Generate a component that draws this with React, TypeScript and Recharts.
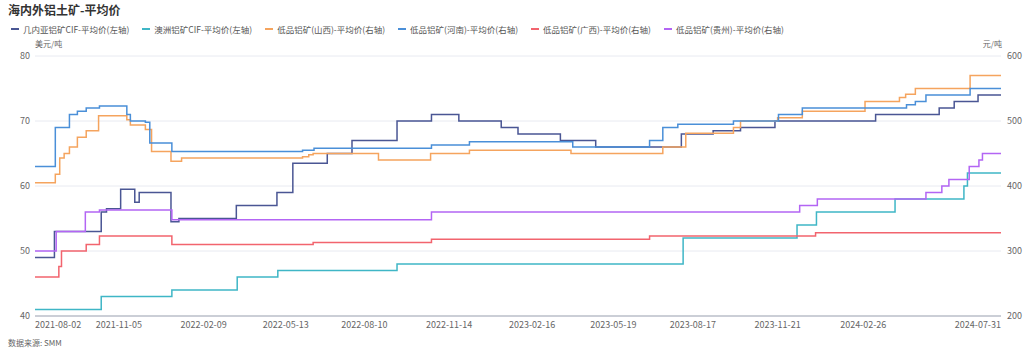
import { CartesianGrid, Line, LineChart, XAxis, YAxis } from "recharts";

const FONT = '"Noto Sans CJK SC", "Noto Sans", sans-serif';

const xTickDates = [
  "2021-08-02", "2021-11-05", "2022-02-09", "2022-05-13", "2022-08-10", "2022-11-14",
  "2023-02-16", "2023-05-19", "2023-08-17", "2023-11-21", "2024-02-26", "2024-07-31",
];
const leftTicks = [40, 50, 60, 70, 80];
const rightTicks = [200, 300, 400, 500, 600];

// 几内亚铝矿CIF (美元/吨)
const guineaDates = [
  "2021-08-02", "2021-08-24", "2021-10-16", "2021-10-22", "2021-11-07", "2021-11-23",
  "2021-11-28", "2022-01-03", "2022-01-12", "2022-03-18", "2022-05-03", "2022-05-21",
  "2022-06-29", "2022-07-27", "2022-09-16", "2022-10-25", "2022-11-25", "2023-01-12",
  "2023-01-31", "2023-03-20", "2023-04-29", "2023-08-04", "2023-09-09", "2023-10-10",
  "2023-11-18", "2024-03-11", "2024-05-22", "2024-06-08", "2024-07-05", "2024-07-31",
];
const guineaValues = [
  49, 53, 56, 56.5, 59.5, 57.5, 59, 54.5, 55, 57, 59, 63.5, 65, 67, 70, 71, 70, 69, 68,
  67, 66, 68, 68.5, 69, 70, 71, 72, 73, 74, 74,
];

// 澳洲铝矿CIF (美元/吨)
const ausDates = [
  "2021-08-02", "2021-10-16", "2022-01-04", "2022-03-19", "2022-05-04", "2022-09-16",
  "2023-08-06", "2023-12-13", "2024-01-04", "2024-04-02", "2024-06-19", "2024-06-23",
  "2024-07-31",
];
const ausValues = [41, 43, 44, 46, 47, 48, 52, 54, 56, 58, 60, 62, 62];

// 低品铝矿(山西) (元/吨)
const shanxiDates = [
  "2021-08-02", "2021-08-25", "2021-08-30", "2021-09-04", "2021-09-10", "2021-09-19",
  "2021-09-29", "2021-10-13", "2021-11-14", "2021-11-18", "2021-12-05", "2021-12-12",
  "2022-01-03", "2022-01-15", "2022-06-01", "2022-06-08", "2022-06-13", "2022-08-26",
  "2022-10-24", "2022-12-07", "2023-04-01", "2023-07-14", "2023-08-09", "2023-10-02",
  "2023-10-10", "2023-11-21", "2023-12-19", "2024-02-28", "2024-04-07", "2024-04-14",
  "2024-04-25", "2024-06-26", "2024-07-31",
];
const shanxiValues = [
  405, 418, 443, 450, 460, 475, 485, 508, 502, 494, 487, 453, 438, 443, 445, 448, 450,
  440, 450, 455, 450, 460, 481, 490, 500, 505, 515, 530, 536, 541, 550, 570, 570,
];

// 低品铝矿(河南) (元/吨)
const henanDates = [
  "2021-08-02", "2021-08-25", "2021-09-10", "2021-09-19", "2021-09-29", "2021-10-14",
  "2021-11-14", "2021-11-18", "2021-12-05", "2021-12-10", "2022-01-04", "2022-06-01",
  "2022-06-14", "2022-10-25", "2022-12-07", "2023-04-03", "2023-06-29", "2023-07-14",
  "2023-07-31", "2023-10-02", "2023-11-22", "2023-12-19", "2024-04-15", "2024-04-25",
  "2024-05-07", "2024-06-26", "2024-07-31",
];
const henanValues = [
  430, 490, 510, 515, 520, 523, 510, 500, 498, 466, 453, 455, 458, 463, 468, 460, 470,
  490, 495, 500, 510, 520, 525, 530, 540, 550, 550,
];

// 低品铝矿(广西) (元/吨)
const guangxiDates = [
  "2021-08-02", "2021-08-29", "2021-09-01", "2021-09-29", "2021-10-14", "2022-01-04",
  "2022-06-13", "2022-10-25", "2023-06-29", "2024-01-03", "2024-07-31",
];
const guangxiValues = [260, 276, 300, 310, 323, 310, 313, 318, 323, 328, 328];

// 低品铝矿(贵州) (元/吨)
const guizhouDates = [
  "2021-08-02", "2021-08-26", "2021-09-28", "2021-10-14", "2022-01-04", "2022-10-25",
  "2023-12-16", "2024-01-05", "2024-05-07", "2024-05-25", "2024-06-02", "2024-06-25",
  "2024-07-06", "2024-07-10", "2024-07-31",
];
const guizhouValues = [300, 330, 360, 363, 348, 360, 370, 380, 390, 400, 410, 430, 440, 450, 450];

const toTime = (s: string) => Date.parse(s + "T00:00:00Z");
const build = (dates: string[], values: number[]) =>
  dates.map((d, i) => ({ t: toTime(d), v: values[i] }));

const series = [
  { name: "几内亚铝矿CIF-平均价(左轴)", color: "#4a5694", axis: "left", data: build(guineaDates, guineaValues) },
  { name: "澳洲铝矿CIF-平均价(左轴)", color: "#3fb6c6", axis: "left", data: build(ausDates, ausValues) },
  { name: "低品铝矿(山西)-平均价(右轴)", color: "#f5a45e", axis: "right", data: build(shanxiDates, shanxiValues) },
  { name: "低品铝矿(河南)-平均价(右轴)", color: "#4a8fd8", axis: "right", data: build(henanDates, henanValues) },
  { name: "低品铝矿(广西)-平均价(右轴)", color: "#f2646e", axis: "right", data: build(guangxiDates, guangxiValues) },
  { name: "低品铝矿(贵州)-平均价(右轴)", color: "#b365f4", axis: "right", data: build(guizhouDates, guizhouValues) },
];

const xTicks = xTickDates.map(toTime);

function DateTick(props: any) {
  const { x, y, payload, index } = props;
  const anchor = index === 0 ? "start" : index === xTicks.length - 1 ? "end" : "middle";
  const d = new Date(payload.value).toISOString().slice(0, 10);
  return (
    <text x={x} y={y} dy={8} textAnchor={anchor} fontSize={9} fill="#666" fontFamily={FONT}>
      {d}
    </text>
  );
}

export default function App() {
  return (
    <div
      style={{
        position: "absolute",
        left: 0,
        top: 0,
        width: 1024,
        height: 355,
        background: "#fff",
        fontFamily: FONT,
      }}
    >
      <div style={{ position: "absolute", left: 8, top: 2, fontSize: 12, fontWeight: 700, color: "#333", lineHeight: "16px" }}>
        海内外铝土矿-平均价
      </div>
      <div style={{ position: "absolute", left: 11, top: 23, display: "flex", gap: 13, fontSize: 8.5, lineHeight: "12px", color: "#555" }}>
        {series.map((s) => (
          <div key={s.name} style={{ display: "flex", alignItems: "center", gap: 4 }}>
            <span style={{ display: "inline-block", width: 8, height: 1.5, background: s.color }} />
            <span>{s.name}</span>
          </div>
        ))}
      </div>
      <div style={{ position: "absolute", left: 35, top: 39, fontSize: 8, lineHeight: "10px", color: "#666" }}>美元/吨</div>
      <div style={{ position: "absolute", right: 22, top: 39, fontSize: 8, lineHeight: "10px", color: "#666" }}>元/吨</div>
      <div style={{ position: "absolute", left: 8, top: 338, fontSize: 8, lineHeight: "10px", color: "#666" }}>数据来源: SMM</div>

      <LineChart
        width={1024}
        height={355}
        margin={{ top: 56, right: 0, left: 5, bottom: 19 }}
        style={{ position: "absolute", left: 0, top: 0 }}
      >
        <CartesianGrid yAxisId="left" vertical={false} stroke="#e8eaf1" />
        <XAxis
          dataKey="t"
          type="number"
          scale="time"
          domain={[xTicks[0], xTicks[xTicks.length - 1]]}
          ticks={xTicks}
          interval={0}
          height={20}
          tickLine={false}
          tickSize={0}
          tickMargin={4}
          axisLine={{ stroke: "#a3a8b5" }}
          tick={<DateTick />}
          allowDuplicatedCategory={false}
        />
        <YAxis
          yAxisId="left"
          width={30}
          domain={[40, 80]}
          ticks={leftTicks}
          axisLine={false}
          tickLine={false}
          tickSize={3}
          tickMargin={2}
          tick={{ fontSize: 9, fill: "#666", fontFamily: FONT }}
        />
        <YAxis
          yAxisId="right"
          orientation="right"
          width={23}
          domain={[200, 600]}
          ticks={rightTicks}
          axisLine={false}
          tickLine={false}
          tickSize={4}
          tickMargin={2}
          tick={{ fontSize: 9, fill: "#666", fontFamily: FONT }}
        />
        {series.map((s) => (
          <Line
            key={s.name}
            yAxisId={s.axis}
            data={s.data}
            dataKey="v"
            name={s.name}
            type="stepAfter"
            stroke={s.color}
            strokeWidth={1.5}
            dot={false}
            activeDot={false}
            isAnimationActive={false}
          />
        ))}
      </LineChart>
    </div>
  );
}
